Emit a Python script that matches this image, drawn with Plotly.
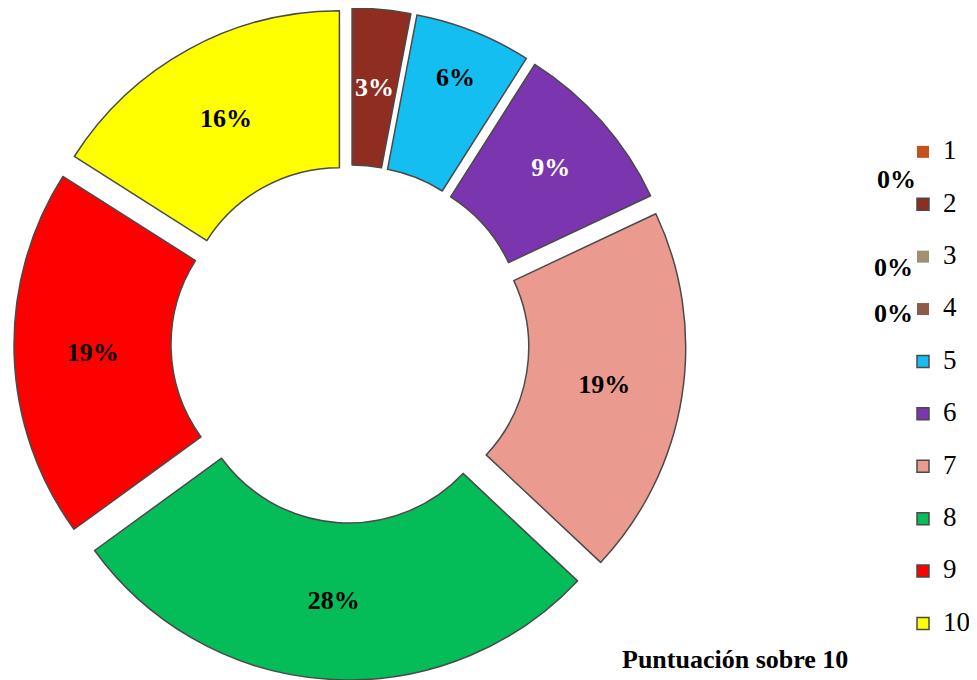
import math
import plotly.graph_objects as go

# ---- data ----
categories = ["1", "2", "3", "4", "5", "6", "7", "8", "9", "10"]
percentages = [0, 3, 0, 0, 6, 9, 19, 28, 19, 16]
slice_colors = ["#C4501F", "#8E2D20", "#A09070", "#8B5B4C", "#14BEF0",
                "#7B35AE", "#EA9A8F", "#05BD58", "#FF0000", "#FFFF00"]
text_colors = ["black", "white", "black", "black", "black",
               "white", "black", "black", "black", "black"]
title_text = "Puntuación sobre 10"

W, H = 977, 680
SERIF = "Liberation Serif, Times New Roman, serif"

# geometry of the donut (pixels)
cx, cy, half = 342, 336, 336
HOLE, PULL = 0.5, 0.07

total = sum(percentages)
# the thin 3 % slice gets its label placed by hand (plotly would push it outward)
narrow = [0 < v / total < 0.05 for v in percentages]
slice_text = [f"{v}%" if (v > 0 and not n) else "" for v, n in zip(percentages, narrow)]
legend_labels = [f"<span style='font-size:27px'>{c}</span><br> " for c in categories]
line_widths = [1.5 if v > 0 else 0 for v in percentages]

y0 = max(0.0, 1 - (cy + half) / H)
y1 = min(1.0, 1 - (cy - half) / H)

fig = go.Figure(go.Pie(
    labels=legend_labels,
    values=percentages,
    text=slice_text,
    textinfo="text",
    textposition="inside",
    insidetextorientation="horizontal",
    textfont=dict(family=SERIF, size=26, color=text_colors, weight="bold"),
    marker=dict(colors=slice_colors, line=dict(color="#4a4a4a", width=line_widths)),
    hole=HOLE,
    pull=PULL,
    sort=False,
    direction="clockwise",
    rotation=0,
    hoverinfo="label+percent",
    domain=dict(x=[(cx - half) / W, (cx + half) / W], y=[y0, y1]),
))

# label of narrow slices at the middle of the ring
R = half / (1 + PULL)
cum = 0.0
for v, n, col in zip(percentages, narrow, text_colors):
    mid = (cum + v / 2) / total * 2 * math.pi
    cum += v
    if not n:
        continue
    rad = R * (1 + HOLE) / 2 + R * PULL
    px, py = cx + rad * math.sin(mid), cy - rad * math.cos(mid)
    fig.add_annotation(x=px / W, y=1 - py / H, xref="paper", yref="paper",
                       text=f"{v}%", showarrow=False,
                       font=dict(family=SERIF, size=26, color=col, weight="bold"),
                       xanchor="center", yanchor="middle")

# "0%" labels of empty slices, placed next to the legend as in the original
zero_pos = [(888, 171), (885, 259), (885, 305)]
zero_vals = [v for v in percentages if v == 0]
for (px, py), v in zip(zero_pos, zero_vals):
    fig.add_annotation(x=px / W, y=1 - py / H, xref="paper", yref="paper",
                       text=f"{v}%", showarrow=False,
                       font=dict(family=SERIF, size=26, color="black", weight="bold"),
                       xanchor="center", yanchor="middle")

fig.update_layout(
    width=W, height=H,
    margin=dict(l=0, r=0, t=0, b=0, autoexpand=False),
    paper_bgcolor="white",
    plot_bgcolor="white",
    uniformtext=dict(minsize=26, mode="show"),
    showlegend=True,
    legend=dict(
        x=895 / W, xanchor="left",
        y=1 - 125 / H, yanchor="top",
        font=dict(family=SERIF, size=19, color="black"),
        valign="top",
        bgcolor="rgba(0,0,0,0)",
    ),
    title=dict(text=title_text, x=614 / W, xanchor="left", xref="container",
               y=1 - 651 / H, yanchor="middle", yref="container",
               font=dict(family=SERIF, size=26, color="black", weight="bold")),
)

fig.write_html("out.html")
